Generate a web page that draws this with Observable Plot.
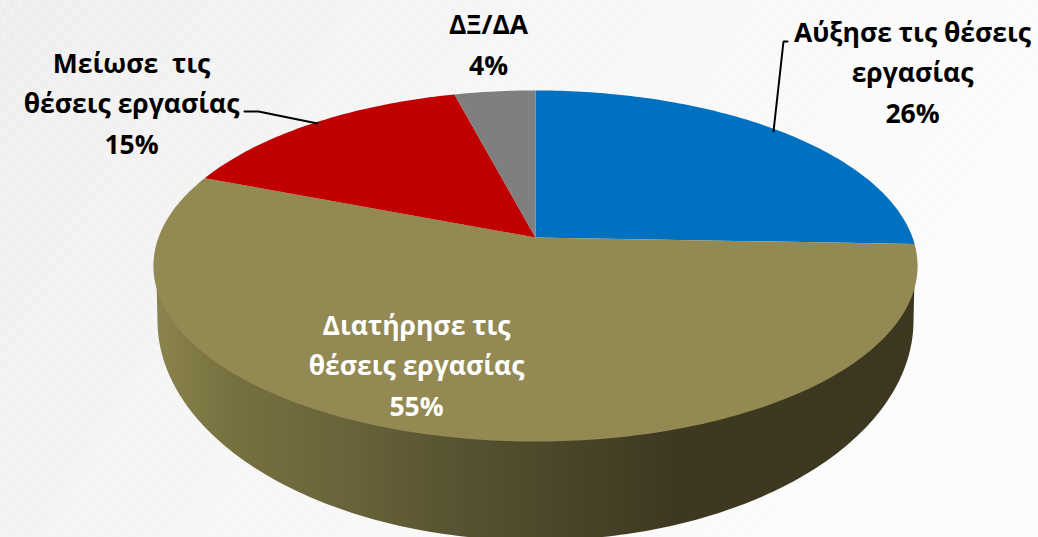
<!DOCTYPE html>
<html>
<head>
<meta charset="utf-8">
<script src="https://cdn.jsdelivr.net/npm/d3@7"></script>
<script src="https://cdn.jsdelivr.net/npm/@observablehq/plot@0.6"></script>
<style>
html,body{margin:0;padding:0;background:#fff;overflow:hidden}
svg{display:block}
</style>
</head>
<body>
<div id="chart"></div>
<script>
// Data, clockwise from twelve o'clock
const categories = ["Αύξησε τις θέσεις εργασίας", "Διατήρησε τις θέσεις εργασίας", "Μείωσε τις θέσεις εργασίας", "ΔΞ/ΔΑ"];
const shares = [25.6, 55.4, 15, 4];
const sliceColors = ["#0070c0", "#938953", "#c00000", "#7f7f7f"];
const labelLines = [
  "Αύξησε τις θέσεις\nεργασίας",
  "Διατήρησε τις\nθέσεις εργασίας",
  "Μείωσε  τις\nθέσεις εργασίας",
  "ΔΞ/ΔΑ"
];

// Layout
const W = 1038, H = 537;
const apex = {x: 535, y: 237};
const persp = 0.1624, radiusX = 377, radiusY = 170.9;
const base = {cx: 535, cy: 320, rx: 378, ry: 220};
const labelAt = [[912, 69], [416, 362], [131, 100], [488, 41]];
const labelInk = ["#000", "#fff", "#000", "#000"];
const leaders = [
  {id: "a", pts: [[787, 41], [783, 41], [773, 131]]},
  {id: "b", pts: [[244, 111], [258, 111], [317, 123]]}
];

const project = (t) => {
  const u = Math.sin(t), v = Math.cos(t), w = 1 + persp * v;
  return {x: apex.x + radiusX * u / w, y: apex.y - radiusY * v / w};
};

// Slices of the top face, derived from the shares
let acc = 0;
const slices = shares.map((s, i) => {
  const t0 = acc / 100 * 2 * Math.PI;
  acc += s;
  const t1 = acc / 100 * 2 * Math.PI;
  const n = Math.max(8, Math.ceil(s * 4));
  const pts = [apex];
  for (let j = 0; j <= n; ++j) pts.push(project(t0 + (t1 - t0) * j / n));
  return {pts, color: sliceColors[i], name: categories[i]};
});

// Side wall: lower half of the base outline, closed along the top face's widest line
const wall = [];
for (let j = 0; j <= 180; ++j) {
  const a = Math.PI * j / 180;
  wall.push({x: base.cx + base.rx * Math.cos(a), y: base.cy + base.ry * Math.sin(a)});
}
wall.unshift({x: apex.x + 379, y: 280});
wall.push({x: apex.x - 379, y: 280});

const labels = categories.map((c, i) => ({
  text: labelLines[i] + "\n" + Math.round(shares[i]) + "%",
  x: labelAt[i][0], y: labelAt[i][1], ink: labelInk[i]
}));
const leaderPts = leaders.flatMap((l) => l.pts.map(([x, y]) => ({id: l.id, x, y})));

const defs = () => {
  const g = d3.create("svg:g");
  const d = g.append("defs");
  const side = d.append("linearGradient").attr("id", "sideGrad").attr("gradientUnits", "userSpaceOnUse")
    .attr("x1", 153).attr("x2", 917).attr("y1", 0).attr("y2", 0);
  [[0, "#8b8450"], [0.1, "#77713f"], [0.25, "#69643a"], [0.4, "#575230"], [0.5, "#4e492b"], [0.68, "#3e3821"], [1, "#3c3720"]]
    .forEach(([o, c]) => side.append("stop").attr("offset", o).attr("stop-color", c));
  const bgGrad = d.append("linearGradient").attr("id", "bgGrad").attr("x1", 0).attr("x2", 1).attr("y1", 0).attr("y2", 0.3);
  [[0, "#ebebeb"], [0.45, "#f4f4f4"], [1, "#fbfbfb"]]
    .forEach(([o, c]) => bgGrad.append("stop").attr("offset", o).attr("stop-color", c));
  const blur = d.append("filter").attr("id", "soft").attr("x", "-2%").attr("y", "-2%").attr("width", "104%").attr("height", "104%");
  blur.append("feGaussianBlur").attr("stdDeviation", 2);
  const pat = d.append("pattern").attr("id", "bgPat").attr("patternUnits", "userSpaceOnUse")
    .attr("width", 16).attr("height", 16);
  pat.append("rect").attr("width", 8).attr("height", 8).attr("fill", "#fff").attr("fill-opacity", 0.4);
  pat.append("rect").attr("x", 8).attr("y", 8).attr("width", 8).attr("height", 8).attr("fill", "#fff").attr("fill-opacity", 0.4);
  g.append("rect").attr("width", W).attr("height", H).attr("fill", "url(#bgGrad)");
  g.append("rect").attr("x", -16).attr("y", -16).attr("width", W + 32).attr("height", H + 32)
    .attr("fill", "url(#bgPat)").attr("filter", "url(#soft)");
  return g.node();
};

const plot = Plot.plot({
  width: W, height: H,
  margin: 0,
  x: {domain: [0, W], range: [0, W], axis: null},
  y: {domain: [0, H], range: [0, H], axis: null},
  marks: [
    defs,
    Plot.line(wall, {x: "x", y: "y", fill: "url(#sideGrad)", stroke: "none"}),
    ...slices.map((s) => Plot.line(s.pts, {x: "x", y: "y", fill: s.color, stroke: "none", title: () => s.name})),
    Plot.line(leaderPts, {x: "x", y: "y", z: "id", stroke: "#000", strokeWidth: 2, fill: "none", strokeLinejoin: "miter"}),
    Plot.text(labels, {
      x: "x", y: "y", text: "text", fill: "ink",
      fontFamily: "'Open Sans'", fontWeight: 700, fontSize: 26.5, lineHeight: 1.53,
      textAnchor: "middle", stroke: "none"
    })
  ]
});
document.getElementById("chart").append(plot);
</script>
</body>
</html>
